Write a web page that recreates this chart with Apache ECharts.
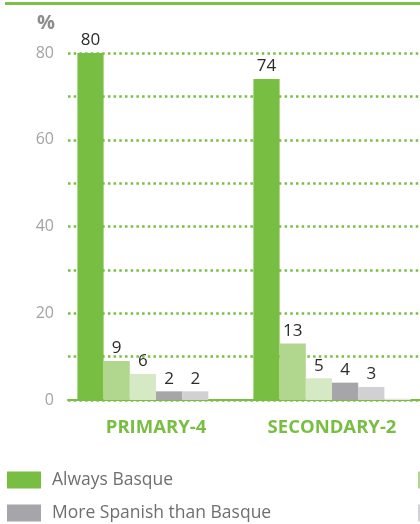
<!DOCTYPE html>
<html>
<head>
<meta charset="utf-8">
<script src="https://cdn.jsdelivr.net/npm/echarts@6/dist/echarts.min.js"></script>
<style>
  html, body { margin: 0; padding: 0; background: #fff; overflow: hidden; }
  #chart { width: 420px; height: 524px; }
</style>
</head>
<body>
<div id="chart"></div>
<script>
// School stages on the category axis
const categories = ['PRIMARY-4', 'SECONDARY-2'];

// Share of pupils (%) by language used
const alwaysBasque = [80, 74];
const moreBasqueThanSpanish = [9, 13];
const bothEqually = [6, 5];
const moreSpanishThanBasque = [2, 4];
const alwaysSpanish = [2, 3];
const otherLanguages = [0, 0.3];

// Y axis ticks: labelled every 20, dotted lines every 10
const yTicks = [0, 10, 20, 30, 40, 50, 60, 70, 80];
const yLabelled = [0, 20, 40, 60, 80];

const seriesDefs = [
  { name: 'Always Basque', data: alwaysBasque, color: '#78be43', label: true },
  { name: 'More Basque than Spanish', data: moreBasqueThanSpanish, color: '#b1d68d', label: true },
  { name: 'Both equally', data: bothEqually, color: '#d6e9c5', label: true },
  { name: 'More Spanish than Basque', data: moreSpanishThanBasque, color: '#a6a6aa', label: true },
  { name: 'Always Spanish', data: alwaysSpanish, color: '#d1d1d4', label: true },
  { name: 'Other languages', data: otherLanguages, color: '#e4e4e4', label: false }
];

const FONT = '"Open Sans", "DejaVu Sans", sans-serif';

// Legend laid out in rows of three, one component per entry
const legendLeft = [7, 418, 830];
const legendTop = [471, 504];
const legends = seriesDefs.map((s, i) => ({
  data: [s.name],
  left: legendLeft[i % 3],
  top: legendTop[Math.floor(i / 3)],
  orient: 'horizontal',
  padding: 0,
  itemWidth: 34,
  itemHeight: 17,
  itemGap: 0,
  selectedMode: false,
  icon: 'rect',
  textStyle: { fontFamily: FONT, fontSize: 17.5, color: '#6f6f72', padding: [0, 0, 0, 6] }
}));

const chart = echarts.init(document.getElementById('chart'), null, { renderer: 'canvas' });

chart.setOption({
  animation: false,
  backgroundColor: '#ffffff',
  title: {
    text: '%',
    left: 37,
    top: 13,
    padding: 0,
    textStyle: { fontFamily: FONT, fontSize: 20, fontWeight: 'bold', color: '#8c8c8f' }
  },
  graphic: [
    {
      type: 'rect',
      shape: { x: 5, y: 2, width: 420, height: 3 },
      style: { fill: '#7cc04a' },
      silent: true
    }
  ],
  legend: legends,
  grid: { left: 68, right: -1, top: 53, bottom: 124, containLabel: false },
  xAxis: {
    type: 'category',
    data: categories,
    axisLine: { show: true, lineStyle: { color: '#78be43', width: 2 } },
    axisTick: { show: false },
    axisLabel: {
      margin: 18,
      fontFamily: FONT,
      fontSize: 18.5,
      fontWeight: 'bold',
      color: '#78be43'
    }
  },
  yAxis: {
    type: 'value',
    min: yTicks[0],
    max: yTicks[yTicks.length - 1],
    interval: 10,
    axisLine: { show: false },
    axisTick: { show: false },
    axisLabel: {
      margin: 14,
      fontFamily: FONT,
      fontSize: 16,
      color: '#a3a3a6',
      formatter: v => (yLabelled.indexOf(v) >= 0 ? String(v) : '')
    },
    splitLine: {
      show: true,
      lineStyle: { color: '#78be43', width: 2.5, type: [2.5, 3.2] }
    }
  },
  series: seriesDefs.map(s => ({
    name: s.name,
    type: 'bar',
    data: s.data,
    barGap: '0%',
    barCategoryGap: '10.7%',
    itemStyle: { color: s.color },
    label: {
      show: s.label,
      position: 'top',
      distance: 4,
      fontFamily: FONT,
      fontSize: 17,
      color: '#2b2b2b'
    }
  }))
});
</script>
</body>
</html>
